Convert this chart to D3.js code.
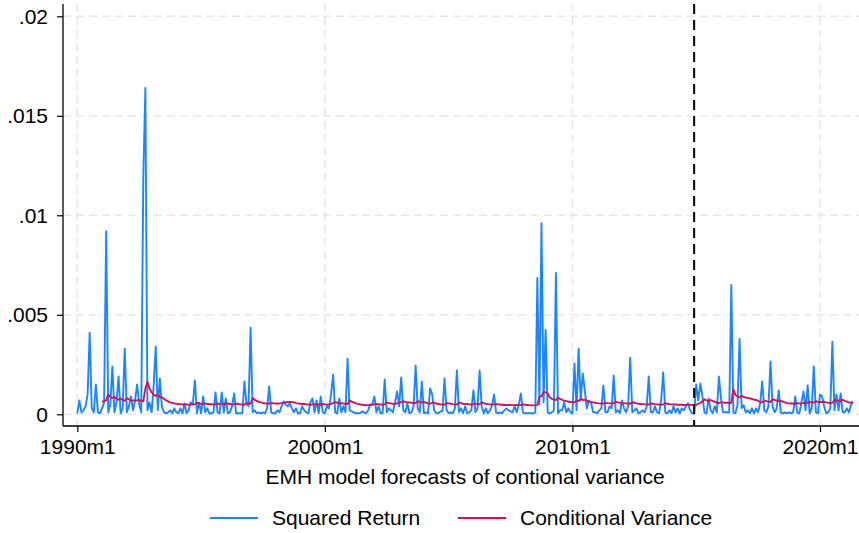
<!DOCTYPE html>
<html>
<head>
<meta charset="utf-8">
<script src="https://cdn.jsdelivr.net/npm/d3@7"></script>
<style>
  body { margin: 0; background: #fff; }
  svg { display: block; font-family: "Liberation Sans", Arial, sans-serif; }
</style>
</head>
<body>
<svg id="chart" width="859" height="533"></svg>
<script>
// monthly data, values in units of 1e-3
// squared return, 1990m1 .. 2021m5
const sqReturn = [
  0.05, 0.7, 0.1, 0.2, 0.4, 1.0, 4.1, 0.3, 0.1, 1.5, 0.1, 0.05,
  0.3, 0.6, 9.2, 0.1, 0.5, 2.4, 0.1, 0.6, 1.9, 0.05, 0.3, 3.3,
  0.1, 0.4, 0.9, 0.2, 0.7, 1.5, 0.5, 0.1, 12.0, 16.4, 0.2, 0.6,
  0.1, 1.4, 3.4, 0.2, 1.8, 0.4, 0.1, 0.05, 0.1, 0.2, 0.05, 0.3,
  0.1, 0.05, 0.3, 0.05, 0.55, 0.05, 0.2, 0.6, 0.5, 1.7, 0.05, 0.6,
  0.05, 0.9, 0.1, 0.3, 0.05, 0.05, 0.1, 1.1, 0.1, 0.05, 1.1, 0.1,
  0.8, 0.05, 0.1, 0.4, 1.05, 0.05, 0.05, 0.05, 0.05, 1.65, 0.55, 0.4,
  4.35, 0.1, 0.2, 0.05, 0.1, 0.05, 0.1, 0.05, 0.3, 1.4, 0.1, 0.05,
  0.05, 0.2, 0.1, 0.4, 0.65, 0.5, 0.4, 0.55, 0.3, 0.1, 0.3, 0.05,
  0.05, 0.4, 0.2, 0.1, 0.05, 0.6, 0.8, 0.1, 0.7, 0.05, 0.9, 0.1,
  0.05, 0.4, 0.3, 1.0, 2.0, 0.1, 0.05, 0.8, 0.1, 0.4, 0.1, 2.8,
  0.2, 0.15, 0.1, 0.05, 0.05, 0.05, 0.15, 0.1, 0.05, 0.2, 0.5, 0.5,
  0.9, 0.1, 0.4, 0.05, 0.05, 1.75, 0.1, 0.3, 0.2, 0.1, 0.6, 1.15,
  0.4, 1.85, 0.2, 0.1, 0.55, 0.05, 0.1, 0.4, 2.45, 0.3, 0.1, 1.65,
  0.05, 0.1, 0.05, 1.3, 1.0, 0.2, 0.05, 0.05, 0.15, 0.15, 1.8, 0.2,
  0.05, 0.1, 0.05, 0.3, 2.2, 0.1, 0.3, 0.05, 0.4, 0.05, 0.1, 0.2,
  1.2, 0.1, 0.3, 2.2, 0.4, 0.05, 0.3, 0.05, 0.2, 0.45, 1.0, 0.1,
  0.05, 0.1, 0.05, 0.2, 0.3, 0.2, 0.15, 0.1, 0.4, 0.1, 0.5, 1.05,
  0.1, 0.05, 0.05, 0.05, 0.05, 0.05, 0.1, 6.85, 0.5, 9.6, 0.6, 4.25,
  0.1, 0.05, 0.1, 0.2, 7.1, 0.05, 0.2, 0.2, 0.6, 0.1, 0.3, 0.1,
  0.05, 2.55, 0.2, 3.3, 0.7, 2.05, 1.2, 0.3, 0.7, 0.6, 0.1, 0.1,
  0.05, 0.2, 0.3, 1.45, 0.1, 0.1, 0.4, 0.3, 1.95, 0.1, 0.2, 0.05,
  0.7, 0.3, 0.1, 0.4, 2.85, 0.1, 0.2, 0.3, 0.05, 0.1, 0.2, 0.1,
  0.4, 1.9, 0.1, 0.1, 0.4, 0.1, 0.05, 0.7, 2.1, 0.1, 0.05, 0.2,
  0.05, 0.4, 0.1, 0.3, 0.05, 0.3, 0.2, 0.4, 0.55, 0.2, 0.05, 0.05,
  1.5, 0.7, 1.55, 0.9, 0.1, 0.05, 0.8, 0.2, 0.05, 0.4, 0.1, 1.9,
  0.8, 0.1, 0.1, 0.1, 0.1, 6.5, 0.1, 0.05, 0.45, 3.8, 0.3, 0.45,
  0.1, 0.2, 0.05, 0.3, 0.05, 0.3, 0.1, 0.55, 1.65, 0.2, 0.1, 0.4,
  2.65, 0.4, 0.1, 0.3, 1.2, 0.1, 0.05, 0.1, 0.05, 0.1, 0.05, 0.1,
  0.9, 0.1, 0.05, 0.6, 1.15, 0.2, 1.45, 0.05, 0.3, 2.4, 0.1, 0.05,
  1.0, 0.9, 0.4, 0.05, 0.1, 0.3, 3.65, 0.2, 1.0, 0.2, 1.05, 0.1,
  0.1, 0.3, 0.1, 0.45, 0.65
];

// conditional variance, 1991m1 .. 2021m5
const condVarStart = 12;
const condVar = [
  0.64, 0.66, 0.7, 1.0, 0.88, 0.82, 0.88, 0.78, 0.74, 0.8, 0.72, 0.68,
  0.82, 0.75, 0.7, 0.7, 0.68, 0.7, 0.72, 0.68, 0.65, 1.3, 1.64, 1.3,
  1.1, 1.0, 0.92, 1.0, 0.88, 0.85, 0.78, 0.7, 0.65, 0.6, 0.57, 0.55,
  0.53, 0.52, 0.5, 0.49, 0.5, 0.5, 0.48, 0.49, 0.5, 0.5, 0.58, 0.55,
  0.53, 0.52, 0.55, 0.52, 0.52, 0.5, 0.5, 0.49, 0.54, 0.52, 0.5, 0.54,
  0.52, 0.54, 0.52, 0.5, 0.5, 0.54, 0.52, 0.5, 0.49, 0.48, 0.56, 0.54,
  0.53, 0.82, 0.72, 0.67, 0.62, 0.6, 0.57, 0.55, 0.54, 0.53, 0.58, 0.55,
  0.54, 0.53, 0.55, 0.56, 0.57, 0.6, 0.62, 0.61, 0.62, 0.6, 0.56, 0.55,
  0.53, 0.52, 0.52, 0.5, 0.49, 0.48, 0.5, 0.51, 0.48, 0.5, 0.47, 0.52,
  0.5, 0.48, 0.5, 0.52, 0.56, 0.62, 0.58, 0.55, 0.56, 0.54, 0.52, 0.52,
  0.7, 0.64, 0.6, 0.55, 0.52, 0.5, 0.48, 0.47, 0.46, 0.46, 0.47, 0.48,
  0.5, 0.52, 0.5, 0.49, 0.48, 0.5, 0.6, 0.56, 0.55, 0.53, 0.52, 0.55,
  0.6, 0.6, 0.66, 0.62, 0.6, 0.6, 0.58, 0.57, 0.56, 0.66, 0.62, 0.58,
  0.62, 0.58, 0.55, 0.53, 0.58, 0.58, 0.54, 0.52, 0.5, 0.49, 0.48, 0.57,
  0.55, 0.53, 0.51, 0.5, 0.49, 0.6, 0.56, 0.53, 0.51, 0.52, 0.5, 0.49,
  0.5, 0.55, 0.52, 0.5, 0.6, 0.56, 0.53, 0.51, 0.5, 0.49, 0.5, 0.52,
  0.5, 0.49, 0.48, 0.47, 0.47, 0.47, 0.47, 0.46, 0.46, 0.47, 0.46, 0.47,
  0.5, 0.48, 0.47, 0.46, 0.45, 0.45, 0.45, 0.46, 0.88, 0.9, 1.13, 1.1,
  1.05, 0.85, 0.78, 0.74, 0.72, 0.85, 0.77, 0.72, 0.68, 0.66, 0.64, 0.62,
  0.62, 0.6, 0.7, 0.66, 0.77, 0.72, 0.74, 0.68, 0.64, 0.62, 0.6, 0.58,
  0.56, 0.55, 0.54, 0.53, 0.58, 0.56, 0.55, 0.54, 0.55, 0.63, 0.6, 0.58,
  0.56, 0.56, 0.55, 0.54, 0.53, 0.62, 0.58, 0.55, 0.53, 0.52, 0.51, 0.5,
  0.49, 0.49, 0.55, 0.53, 0.51, 0.5, 0.49, 0.48, 0.49, 0.56, 0.53, 0.51,
  0.5, 0.49, 0.49, 0.48, 0.48, 0.48, 0.47, 0.47, 0.48, 0.48, 0.47, 0.46,
  0.46, 0.55, 0.56, 0.66, 0.75, 0.7, 0.66, 0.72, 0.66, 0.62, 0.58, 0.56,
  0.6, 0.6, 0.58, 0.58, 0.57, 0.58, 1.25, 0.97, 0.9, 0.85, 0.92, 0.88,
  0.84, 0.82, 0.8, 0.77, 0.74, 0.72, 0.68, 0.62, 0.6, 0.7, 0.66, 0.64,
  0.62, 0.76, 0.72, 0.69, 0.66, 0.68, 0.64, 0.6, 0.56, 0.55, 0.54, 0.54,
  0.53, 0.56, 0.55, 0.54, 0.56, 0.59, 0.58, 0.62, 0.6, 0.58, 0.66, 0.62,
  0.62, 0.62, 0.63, 0.6, 0.58, 0.57, 0.58, 0.72, 0.68, 0.7, 0.68, 0.73,
  0.68, 0.64, 0.6, 0.58, 0.6
];

// axis ticks (months since 1990m1)
const xTicks = [0, 120, 240, 360];
const xTickLabels = ["1990m1", "2000m1", "2010m1", "2020m1"];
const yTicks = [0, 0.005, 0.01, 0.015, 0.02];
const yTickLabels = ["0", ".005", ".01", ".015", ".02"];
const forecastStart = 299; // 2014m12
const seriesNames = ["Squared Return", "Conditional Variance"];
const colors = ["#1a85ff", "#d41159"];
const xTitle = "EMH model forecasts of contional variance";

const plot = { left: 63, right: 859, top: 4, bottom: 426 };
const fontSize = 21;

const svg = d3.select("#chart");
svg.append("rect").attr("width", 859).attr("height", 533).attr("fill", "#fff");

const x = d3.scaleLinear().domain([0, 360]).range([77.3, 820]);
const y = d3.scaleLinear().domain([0, 0.02]).range([414.3, 16.3]);

// gridlines
svg.append("g").selectAll("line").data(yTicks).join("line")
  .attr("x1", plot.left).attr("x2", plot.right)
  .attr("y1", d => y(d)).attr("y2", d => y(d))
  .attr("stroke", "#e6e6e6").attr("stroke-width", 1.5)
  .attr("stroke-dasharray", "8,5");
svg.append("g").selectAll("line").data(xTicks).join("line")
  .attr("x1", d => x(d)).attr("x2", d => x(d))
  .attr("y1", plot.top).attr("y2", plot.bottom)
  .attr("stroke", "#e6e6e6").attr("stroke-width", 1.5)
  .attr("stroke-dasharray", "8,5");

// series
const blueData = sqReturn.map((v, i) => [i, v * 1e-3]);
const redData = condVar.map((v, i) => [i + condVarStart, v * 1e-3]);
const line = d3.line().x(d => x(d[0])).y(d => y(d[1]));

svg.append("path").datum(blueData)
  .attr("fill", "none").attr("stroke", colors[0])
  .attr("stroke-width", 1.9).attr("stroke-linejoin", "round")
  .attr("d", line);
svg.append("path").datum(redData)
  .attr("fill", "none").attr("stroke", colors[1])
  .attr("stroke-width", 1.9).attr("stroke-linejoin", "round")
  .attr("d", line);

// forecast split
svg.append("line")
  .attr("x1", x(forecastStart)).attr("x2", x(forecastStart))
  .attr("y1", plot.top).attr("y2", plot.bottom)
  .attr("stroke", "#000").attr("stroke-width", 2)
  .attr("stroke-dasharray", "10,6");

// axes
const yAxis = svg.append("g")
  .attr("transform", "translate(" + plot.left + ",0)")
  .call(d3.axisLeft(y).tickValues(yTicks)
    .tickFormat((d, i) => yTickLabels[i]).tickSize(6).tickSizeOuter(0).tickPadding(9));
yAxis.select(".domain").remove();
yAxis.selectAll("text").attr("font-size", fontSize).attr("fill", "#000")
  .attr("font-family", "Liberation Sans, Arial, sans-serif");
yAxis.selectAll("line").attr("stroke", "#000").attr("stroke-width", 1.2);

const xAxis = svg.append("g")
  .attr("transform", "translate(0," + plot.bottom + ")")
  .call(d3.axisBottom(x).tickValues(xTicks)
    .tickFormat((d, i) => xTickLabels[i]).tickSize(6).tickSizeOuter(0).tickPadding(7));
xAxis.select(".domain").remove();
xAxis.selectAll("text").attr("font-size", fontSize).attr("fill", "#000")
  .attr("font-family", "Liberation Sans, Arial, sans-serif");
xAxis.selectAll("line").attr("stroke", "#000").attr("stroke-width", 1.2);

svg.append("line")
  .attr("x1", plot.left).attr("x2", plot.left)
  .attr("y1", plot.top).attr("y2", plot.bottom)
  .attr("stroke", "#000").attr("stroke-width", 1.3);
svg.append("line")
  .attr("x1", plot.left).attr("x2", plot.right)
  .attr("y1", plot.bottom).attr("y2", plot.bottom)
  .attr("stroke", "#000").attr("stroke-width", 1.3);

// axis title
svg.append("text")
  .attr("x", 465).attr("y", 484)
  .attr("text-anchor", "middle").attr("font-size", fontSize)
  .text(xTitle);

// legend
const legend = svg.append("g");
const legendX = [210, 458];
seriesNames.forEach((name, i) => {
  legend.append("line")
    .attr("x1", legendX[i]).attr("x2", legendX[i] + 48)
    .attr("y1", 518).attr("y2", 518)
    .attr("stroke", colors[i]).attr("stroke-width", 1.9);
  legend.append("text")
    .attr("x", legendX[i] + 62).attr("y", 525)
    .attr("font-size", fontSize)
    .text(name);
});
</script>
</body>
</html>
